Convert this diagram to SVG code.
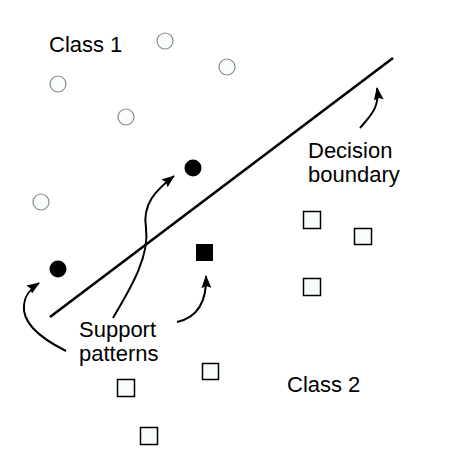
<svg xmlns="http://www.w3.org/2000/svg" width="468" height="453" viewBox="0 0 468 453">
<style>
.lbl{font-family:"Liberation Sans",Arial,sans-serif;font-size:22px;fill:#000}
.c1{fill:#f8fcfc;stroke:#8a8a8a;stroke-width:1.2}
.c1s{fill:#000}
.c2{fill:#f8fcfc;stroke:#000;stroke-width:1.5}
.c2s{fill:#000}
.arr{fill:none;stroke:#000;stroke-width:2;marker-end:url(#ah)}
</style>
<defs>
<marker id="ah" viewBox="0 0 13 10" refX="12" refY="5" markerWidth="13" markerHeight="10" markerUnits="userSpaceOnUse" orient="auto">
<path d="M0,0 L13,5 L0,10 L2,5 z" fill="#000"/>
</marker>
</defs>
<rect width="468" height="453" fill="#fff"/>
<g id="class1-label"><text class="lbl" x="49" y="52">Class 1</text></g>
<g id="class2-label"><text class="lbl" x="287" y="392">Class 2</text></g>
<g id="decision-label"><text class="lbl" x="308" y="158">Decision</text><text class="lbl" x="308" y="182">boundary</text></g>
<g id="support-label"><text class="lbl" x="79" y="337">Support</text><text class="lbl" x="79" y="361">patterns</text></g>
<g id="class1-points">
<circle class="c1" cx="165" cy="41" r="8"/>
<circle class="c1" cx="227" cy="67" r="8"/>
<circle class="c1" cx="58" cy="84" r="8"/>
<circle class="c1" cx="126" cy="117" r="8"/>
<circle class="c1" cx="41" cy="202" r="8"/>
</g>
<g id="class1-support">
<circle class="c1s" cx="193" cy="168" r="8.5"/>
<circle class="c1s" cx="58" cy="269" r="8.5"/>
</g>
<g id="class2-points">
<rect class="c2" x="303.5" y="211.5" width="17" height="17"/>
<rect class="c2" x="354.5" y="228.5" width="17" height="16"/>
<rect class="c2" x="303.5" y="278.5" width="17" height="17"/>
<rect class="c2" x="202.5" y="363.5" width="16" height="16"/>
<rect class="c2" x="117.5" y="379.5" width="17" height="17"/>
<rect class="c2" x="140.5" y="427.5" width="17" height="17"/>
</g>
<g id="class2-support"><rect class="c2s" x="196" y="244" width="17" height="17"/></g>
<g id="boundary"><line x1="50" y1="317" x2="393" y2="58" stroke="#000" stroke-width="2.6"/></g>
<g id="connectors">
<path class="arr" d="M113,318 C128,292 150,258 146,228 C142,204 156,190 174,176"/>
<path class="arr" d="M66,351 C40,338 22,322 24,305 C25,295 30,289 39,283"/>
<path class="arr" d="M177,322 C195,318 207,305 206,276"/>
<path class="arr" d="M360,128 C370,116 380,108 377,88"/>
</g>
</svg>
